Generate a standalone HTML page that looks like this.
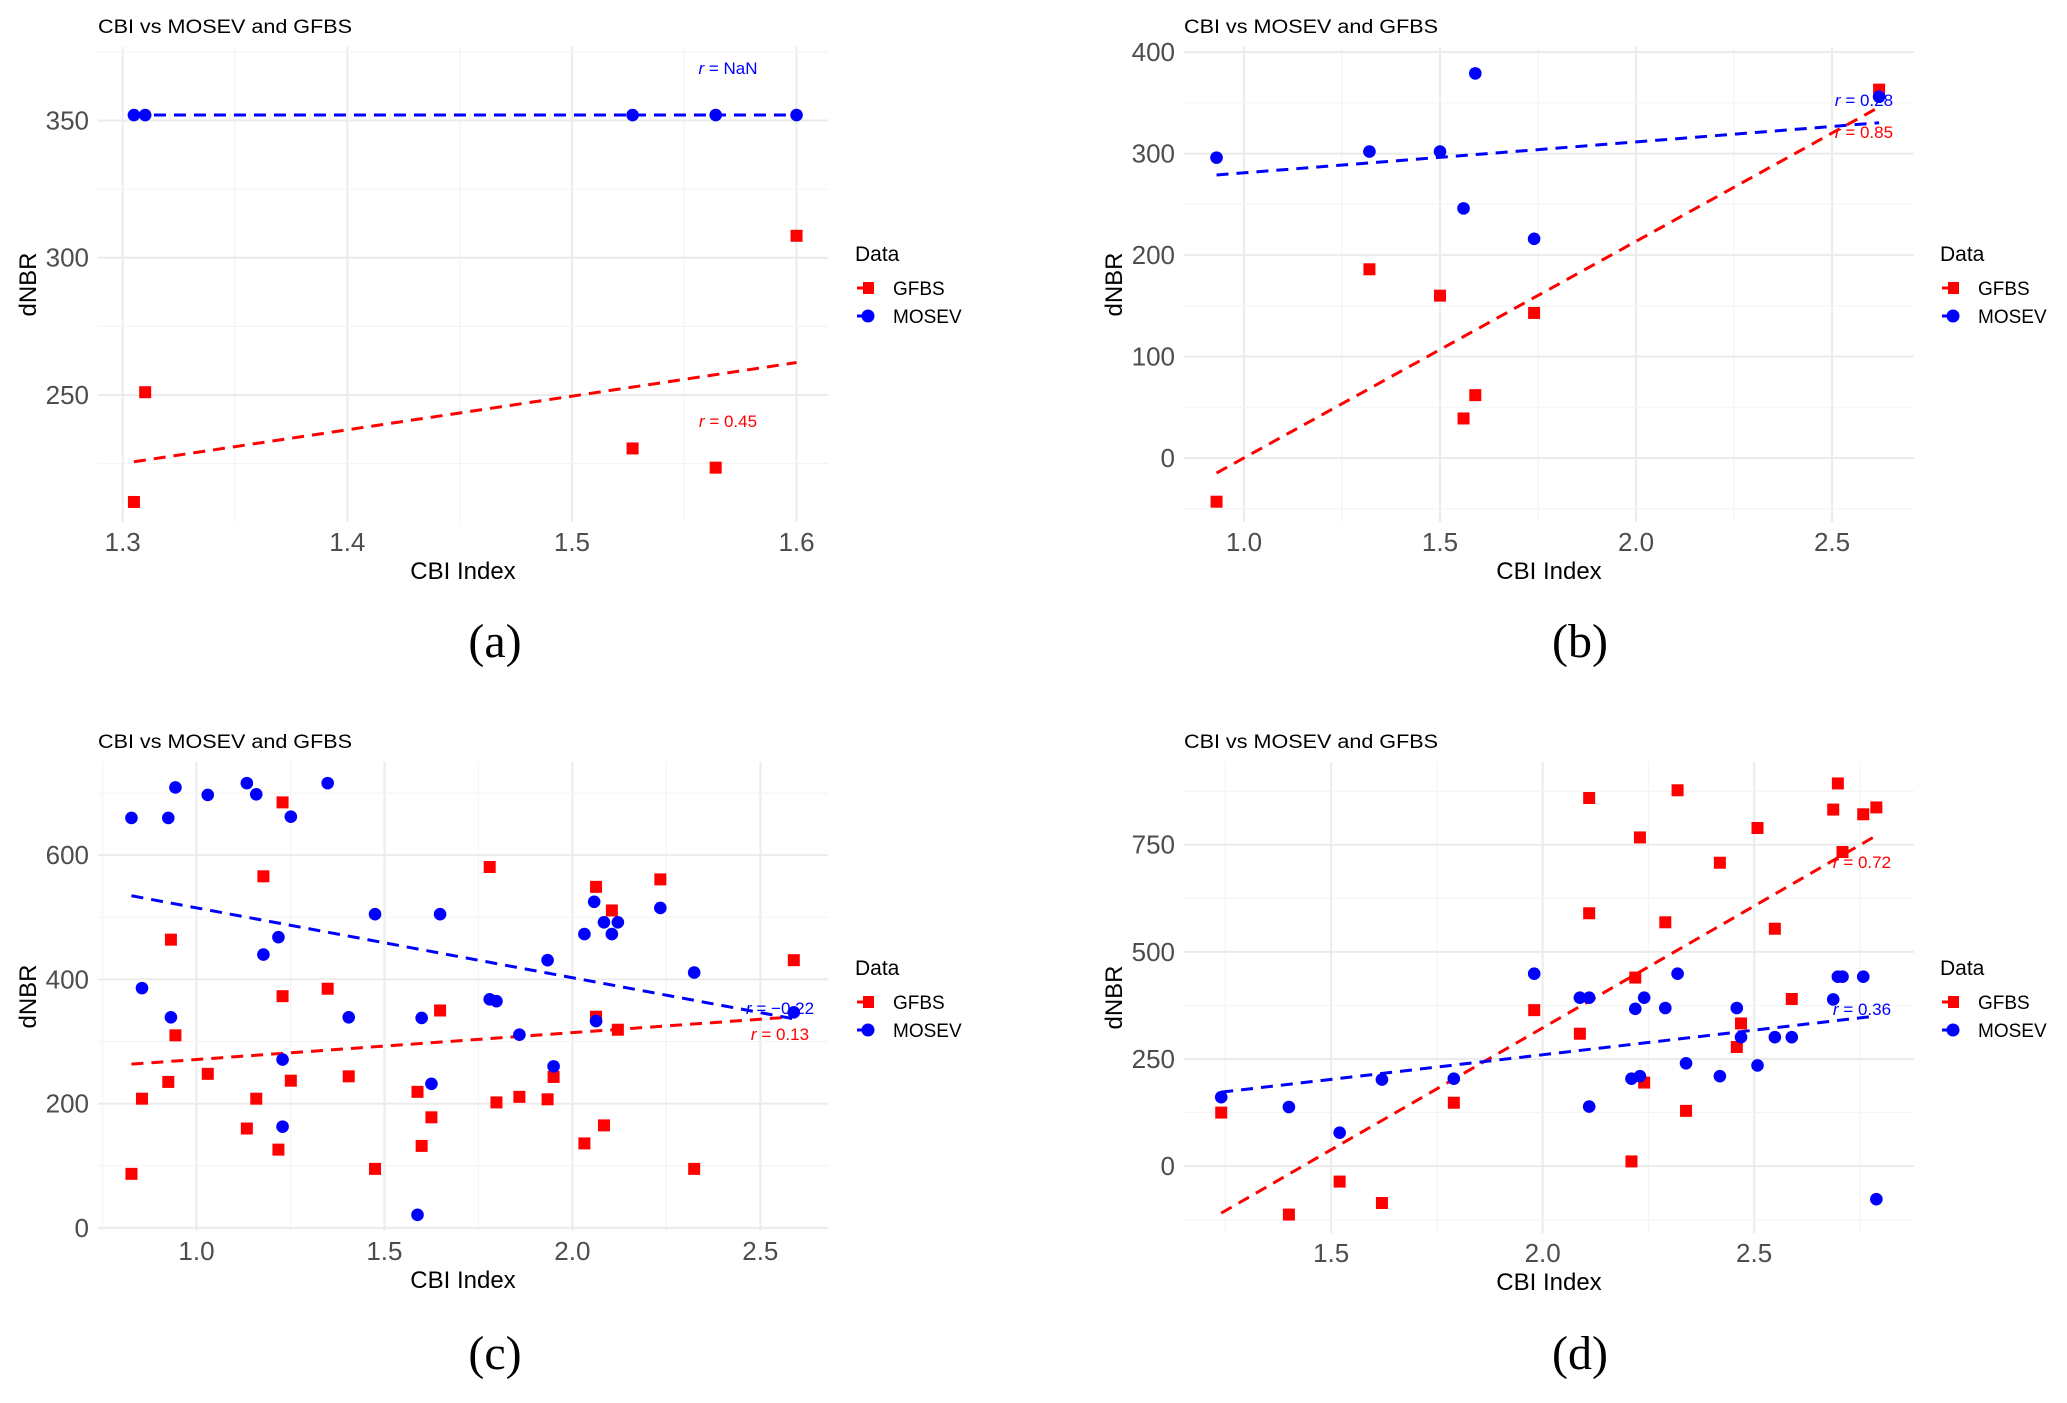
<!DOCTYPE html>
<html><head><meta charset="utf-8">
<style>
html,body{margin:0;padding:0;background:#fff;}
svg{display:block;font-family:"Liberation Sans",sans-serif;}
</style></head>
<body>
<svg id="chart" width="2067" height="1403" viewBox="0 0 2067 1403" xmlns="http://www.w3.org/2000/svg"></svg>
<script>
// ---- Panel (a) data ----
const aMosevX=[1.305,1.31,1.527,1.564,1.6];
const aMosevY=[352,352,352,352,352];
const aGfbsX=[1.305,1.31,1.527,1.564,1.6];
const aGfbsY=[211,251,230.5,223.5,308];
const aRLabels=["NaN","0.45"];
const aXTicks=[1.3,1.4,1.5,1.6];
const aXTickLabels=["1.3","1.4","1.5","1.6"];
const aYTicks=[250,300,350];
// ---- Panel (b) data ----
const bMosevX=[0.93,1.32,1.5,1.56,1.59,1.74,2.62];
const bMosevY=[296,302,302,246,379,216,356];
const bGfbsX=[0.93,1.32,1.5,1.56,1.59,1.74,2.62];
const bGfbsY=[-43,186,160,39,62,143,363];
const bRLabels=["0.28","0.85"];
const bXTicks=[1.0,1.5,2.0,2.5];
const bXTickLabels=["1.0","1.5","2.0","2.5"];
const bYTicks=[0,100,200,300,400];
// ---- Panel (c) data ----
const cMosevX=[0.827,0.925,0.944,1.03,1.134,1.159,1.251,1.349,0.855,0.932,1.178,1.218,1.229,1.229,1.405,1.475,1.599,1.625,1.648,1.588,1.78,1.798,1.859,1.934,1.95,2.032,2.058,2.063,2.084,2.105,2.121,2.234,2.324,2.589];
const cMosevY=[660,660,709,697,716,698,662,716,386,339,440,468,271,163,339,505,338,232,505,21,368,365,311,431,260,473,525,333,492,473,492,515,411,347];
const cGfbsX=[0.827,0.855,0.925,0.932,0.944,1.03,1.134,1.159,1.178,1.218,1.229,1.229,1.251,1.349,1.405,1.475,1.588,1.599,1.625,1.648,1.78,1.798,1.859,1.934,1.95,2.032,2.063,2.063,2.084,2.105,2.121,2.234,2.324,2.589];
const cGfbsY=[87,208,235,464,310,248,160,208,566,126,685,373,237,385,244,95,219,132,178,350,581,202,211,207,243,136,549,340,165,511,319,561,95,431];
const cRLabels=["\u22120.22","0.13"];
const cXTicks=[1.0,1.5,2.0,2.5];
const cXTickLabels=["1.0","1.5","2.0","2.5"];
const cYTicks=[0,200,400,600];
// ---- Panel (d) data ----
const dMosevX=[1.24,1.40,1.52,1.62,1.79,1.98,2.088,2.11,2.11,2.21,2.219,2.23,2.24,2.29,2.319,2.339,2.419,2.459,2.469,2.508,2.549,2.589,2.687,2.698,2.709,2.758,2.789];
const dMosevY=[161,138,78,202,204,449,393,393,139,204,367,210,393,369,449,240,210,369,301,235,301,301,389,442,442,442,-77];
const dGfbsX=[1.24,1.40,1.52,1.62,1.79,1.98,2.088,2.11,2.11,2.21,2.219,2.23,2.24,2.29,2.319,2.339,2.419,2.459,2.469,2.508,2.549,2.589,2.687,2.698,2.709,2.758,2.789];
const dGfbsY=[125,-113,-36,-86,148,364,309,859,590,11,440,767,195,569,877,129,708,278,333,789,554,390,832,893,733,821,837];
const dRLabels=["0.36","0.72"];
const dXTicks=[1.5,2.0,2.5];
const dXTickLabels=["1.5","2.0","2.5"];
const dYTicks=[0,250,500,750];

const NS="http://www.w3.org/2000/svg";
const svg=document.getElementById('chart');
function mk(tag,attrs,parent,text){
  const e=document.createElementNS(NS,tag);
  for(const k in attrs)e.setAttribute(k,attrs[k]);
  if(text!==undefined)e.textContent=text;
  (parent||svg).appendChild(e);return e;
}
function fit(xs,ys){
  const n=xs.length;let mx=0,my=0;
  for(let i=0;i<n;i++){mx+=xs[i];my+=ys[i];}
  mx/=n;my/=n;let sxy=0,sxx=0;
  for(let i=0;i<n;i++){sxy+=(xs[i]-mx)*(ys[i]-my);sxx+=(xs[i]-mx)**2;}
  const b=sxx?sxy/sxx:0;return [my-b*mx,b];
}

function panel(cfg){
  const g=mk('g',{});
  
  
  const X=v=>cfg.px0+(v-cfg.xd[0])/(cfg.xd[1]-cfg.xd[0])*(cfg.px1-cfg.px0);
  const Y=v=>cfg.py1-(v-cfg.yd[0])/(cfg.yd[1]-cfg.yd[0])*(cfg.py1-cfg.py0);
  const xs=cfg.xTicks, ys=cfg.yTicks;
  const xstep=xs[1]-xs[0], ystep=ys[1]-ys[0];
  for(let v=xs[0]-xstep/2; v<=cfg.xd[1]; v+=xstep/2){
    if(v<cfg.xd[0])continue;
    const major=xs.some(t=>Math.abs(t-v)<1e-9);
    const l=mk('line',{x1:X(v),x2:X(v),y1:cfg.py0,y2:cfg.py1,stroke:major?'#ebebeb':'#f4f4f4','stroke-width':major?2:1.2},g);
    
    
  }
  for(let v=ys[0]-ystep*3; v<=cfg.yd[1]; v+=ystep/2){
    if(v<cfg.yd[0])continue;
    const major=ys.some(t=>Math.abs(t-v)<1e-9);
    const l=mk('line',{x1:cfg.px0,x2:cfg.px1,y1:Y(v),y2:Y(v),stroke:major?'#ebebeb':'#f4f4f4','stroke-width':major?2:1.2},g);
    
    
  }
  xs.forEach((v,i)=>{
    const t=mk('text',{x:X(v),y:cfg.py1+29,'font-size':26,fill:'#4d4d4d','text-anchor':'middle'},g,cfg.xLabels[i]);
    
    
  });
  ys.forEach(v=>{
    const t=mk('text',{x:cfg.px0-9,y:Y(v)+9,'font-size':26,fill:'#4d4d4d','text-anchor':'end'},g,String(v));
    
    
  });
  const ti=mk('text',{x:cfg.px0,y:cfg.py0-14,'font-size':19,fill:'#000',textLength:254,lengthAdjust:'spacingAndGlyphs'},g,'CBI vs MOSEV and GFBS');
  
  
  const xt=mk('text',{x:(cfg.px0+cfg.px1)/2,y:cfg.py1+57,'font-size':24,fill:'#000','text-anchor':'middle'},g,'CBI Index');
  
  
  const yc=(cfg.py0+cfg.py1)/2;
  const yt=mk('text',{x:cfg.yTitleX,y:yc,'font-size':24,fill:'#000','text-anchor':'middle',transform:`rotate(-90 ${cfg.yTitleX} ${yc})`},g,'dNBR');
  
  
  const cap=mk('text',{x:cfg.capX,y:cfg.capY,'font-size':48,fill:'#000','text-anchor':'middle','font-family':'"Liberation Serif",serif'},g,cfg.caption);
  
  
  function reg(xa,ya,color,name){
    const [a,b]=fit(xa,ya);
    const x0=Math.min(...xa),x1=Math.max(...xa);
    const l=mk('line',{x1:X(x0),y1:Y(a+b*x0),x2:X(x1),y2:Y(a+b*x1),stroke:color,'stroke-width':3,'stroke-dasharray':'12 8'},g);
    
    
  }
  reg(cfg.gx,cfg.gy,'#ff0000','gfbs-trend-line');
  reg(cfg.mx,cfg.my,'#0000ff','mosev-trend-line');
  cfg.gx.forEach((v,i)=>{
    const r=mk('rect',{x:X(v)-6,y:Y(cfg.gy[i])-6,width:12,height:12,fill:'#ff0000'},g);
    
    
  });
  cfg.mx.forEach((v,i)=>{
    const c=mk('circle',{cx:X(v),cy:Y(cfg.my[i]),r:6.3,fill:'#0000ff'},g);
    
    
  });
  cfg.rTexts.forEach(rt=>{
    const t=mk('text',{x:rt.x,y:rt.y,'font-size':17,fill:rt.color,'text-anchor':'middle'},g);
    mk('tspan',{'font-style':'italic'},t,'r');
    mk('tspan',{},t,' = '+rt.label);
    
    
  });
  const lg=mk('g',{},g);
  
  
  const lx=cfg.legX, ly=cfg.legY;
  const lt=mk('text',{x:lx,y:ly+8,'font-size':21,fill:'#000'},lg,'Data');
  
  
  [['GFBS','#ff0000',35],['MOSEV','#0000ff',63]].forEach(([nm,col,dy],k)=>{
    const e=mk('g',{},lg);
    
    
    mk('line',{x1:lx+2,x2:lx+18,y1:ly+dy,y2:ly+dy,stroke:col,'stroke-width':3},e);
    if(k===0)mk('rect',{x:lx+8,y:ly+dy-6,width:11,height:12,fill:col},e);
    else mk('circle',{cx:lx+13,cy:ly+dy,r:6.5,fill:col},e);
    mk('text',{x:lx+38,y:ly+dy+7,'font-size':19,fill:'#000'},e,nm);
  });
}

panel({id:'a',caption:'(a)',px0:98,px1:828,py0:47,py1:522,xd:[1.289,1.614],yd:[203.7,376.8],
  xTicks:aXTicks,xLabels:aXTickLabels,yTicks:aYTicks,gx:aGfbsX,gy:aGfbsY,mx:aMosevX,my:aMosevY,
  yTitleX:36,capX:495,capY:657,legX:855,legY:253,
  rTexts:[{x:728,y:74,label:aRLabels[0],color:'#0000ff'},{x:728,y:427,label:aRLabels[1],color:'#ff0000'}]});
panel({id:'b',caption:'(b)',px0:1184,px1:1914,py0:47,py1:522,xd:[0.847,2.709],yd:[-63,405],
  xTicks:bXTicks,xLabels:bXTickLabels,yTicks:bYTicks,gx:bGfbsX,gy:bGfbsY,mx:bMosevX,my:bMosevY,
  yTitleX:1122,capX:1580,capY:657,legX:1940,legY:253,
  rTexts:[{x:1864,y:106,label:bRLabels[0],color:'#0000ff'},{x:1864,y:138,label:bRLabels[1],color:'#ff0000'}]});
panel({id:'c',caption:'(c)',px0:98,px1:828,py0:762,py1:1231,xd:[0.738,2.68],yd:[-5,750],
  xTicks:cXTicks,xLabels:cXTickLabels,yTicks:cYTicks,gx:cGfbsX,gy:cGfbsY,mx:cMosevX,my:cMosevY,
  yTitleX:36,capX:495,capY:1369,legX:855,legY:967,
  rTexts:[{x:780,y:1014,label:cRLabels[0],color:'#0000ff'},{x:780,y:1040,label:cRLabels[1],color:'#ff0000'}]});
panel({id:'d',caption:'(d)',px0:1184,px1:1914,py0:762,py1:1233,xd:[1.152,2.878],yd:[-156,943],
  xTicks:dXTicks,xLabels:dXTickLabels,yTicks:dYTicks,gx:dGfbsX,gy:dGfbsY,mx:dMosevX,my:dMosevY,
  yTitleX:1122,capX:1580,capY:1369,legX:1940,legY:967,
  rTexts:[{x:1862,y:1015,label:dRLabels[0],color:'#0000ff'},{x:1862,y:868,label:dRLabels[1],color:'#ff0000'}]});
</script>
</body></html>
